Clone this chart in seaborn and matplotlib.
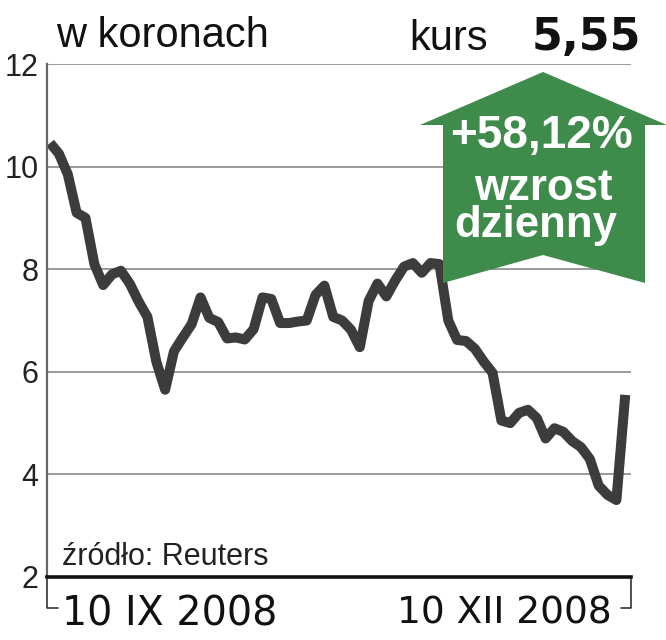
import pandas as pd
import matplotlib
matplotlib.use("Agg")
import matplotlib.pyplot as plt
import seaborn as sns
from matplotlib.patches import Polygon

# kurs dzienny w koronach, 10 IX 2008 - 10 XII 2008 (sesje)
kurs = [10.46, 10.25, 9.85, 9.10, 9.00, 8.10, 7.69, 7.90, 7.97, 7.72,
        7.37, 7.07, 6.20, 5.65, 6.40, 6.67, 6.93, 7.45, 7.05, 6.97,
        6.65, 6.67, 6.63, 6.83, 7.45, 7.42, 6.95, 6.95, 6.98, 7.00,
        7.50, 7.68, 7.07, 7.00, 6.82, 6.48, 7.38, 7.72, 7.47, 7.78,
        8.05, 8.12, 7.93, 8.12, 8.10, 7.00, 6.62, 6.60, 6.45, 6.20,
        5.98, 5.05, 5.00, 5.20, 5.26, 5.10, 4.70, 4.90, 4.83, 4.65,
        4.53, 4.30, 3.78, 3.60, 3.50, 5.55]
y_ticks = [2, 4, 6, 8, 10, 12]
date_labels = ["10 IX 2008", "10 XII 2008"]
zmiana = "+58,12%"
ostatni = "5,55"

df = pd.DataFrame({"sesja": range(len(kurs)), "kurs": kurs})

W, H = 666, 640
sns.set_theme(style="white")
plt.rcParams["font.family"] = ["Liberation Sans", "DejaVu Sans"]

fig = plt.figure(figsize=(W / 100, H / 100), dpi=100)
ax = fig.add_axes([47 / W, 1 - 577 / H, (631 - 47) / W, (577 - 64) / H])


def px(x, y):
    return (x / W, 1 - y / H)


sns.lineplot(data=df, x="sesja", y="kurs", ax=ax, color="#3c3c3c",
             linewidth=7.2, solid_joinstyle="round", solid_capstyle="butt")

n = len(kurs)
ax.set_xlim(-0.35, n - 1 + 0.65)
ax.set_ylim(2, 12)
ax.set_yticks(y_ticks)
ax.set_yticklabels([str(t) for t in y_ticks], fontsize=22, color="#222222")
ax.tick_params(axis="y", length=0, pad=6)
ax.set_xticks([])
ax.set_xlabel("")
ax.set_ylabel("")
for t in y_ticks[1:]:
    ax.axhline(t, color="#9a9a9a", linewidth=1.4, zorder=0)

for s in ["top", "right"]:
    ax.spines[s].set_visible(False)
ax.spines["left"].set_color("#666666")
ax.spines["left"].set_linewidth(1.6)
ax.spines["bottom"].set_color("#111111")
ax.spines["bottom"].set_linewidth(2.6)

# klamry pod osią
fig.add_artist(plt.Line2D([47 / W, 47 / W, 58 / W],
                          [1 - 578 / H, 1 - 608 / H, 1 - 608 / H],
                          color="#222222", linewidth=1.1))
fig.add_artist(plt.Line2D([631 / W, 631 / W, 621 / W],
                          [1 - 578 / H, 1 - 608 / H, 1 - 608 / H],
                          color="#222222", linewidth=1.1))

ax.annotate(date_labels[0], xy=(0, 0), xycoords=("data", "axes fraction"),
            xytext=(12, -37), textcoords="offset pixels",
            ha="left", va="center", fontsize=28.5, color="#111111",
            family="DejaVu Sans")
ax.annotate(date_labels[1], xy=(n - 1, 0), xycoords=("data", "axes fraction"),
            xytext=(-13, -37), textcoords="offset pixels",
            ha="right", va="center", fontsize=27, color="#111111",
            family="DejaVu Sans")

ax.text(15 / (631 - 47), 12 / (577 - 64), "źródło: Reuters",
        transform=ax.transAxes, fontsize=22, color="#222222",
        ha="left", va="baseline")

fig.text(*px(56, 47), "w koronach", fontsize=30, color="#111111",
         ha="left", va="baseline")
fig.text(*px(488, 50), "kurs", fontsize=30, color="#111111",
         ha="right", va="baseline")
fig.text(*px(641, 50), ostatni, fontsize=32, fontweight="bold",
         color="#111111", ha="right", va="baseline", family="DejaVu Sans")

# strzałka
arrow = [px(443, 283), px(443, 125), px(420, 125), px(543, 72),
         px(667, 125), px(645, 125), px(645, 283), px(543, 255)]
fig.add_artist(Polygon(arrow, closed=True, transform=fig.transFigure,
                       facecolor="#3f8b4b", edgecolor="none", zorder=3))
fig.text(*px(542, 148), zmiana, fontsize=33, fontweight="bold",
         color="white", ha="center", va="baseline", zorder=4)
fig.text(*px(543, 200), "wzrost", fontsize=31.5, fontweight="bold",
         color="white", ha="center", va="baseline", zorder=4)
fig.text(*px(536, 237), "dzienny", fontsize=31.5, fontweight="bold",
         color="white", ha="center", va="baseline", zorder=4)

fig.savefig("out.png", dpi=100)
